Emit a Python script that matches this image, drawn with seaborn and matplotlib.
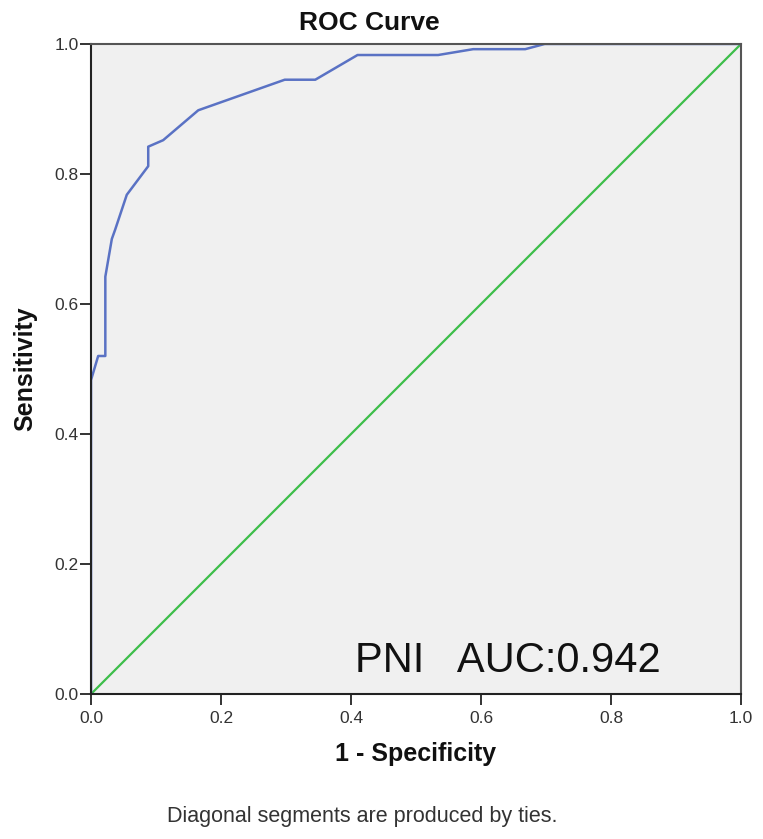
import numpy as np
import pandas as pd
import seaborn as sns
import matplotlib.pyplot as plt

# --- data ---
fpr = [0.0, 0.0, 0.011, 0.022, 0.022, 0.032, 0.037, 0.055, 0.088, 0.088, 0.111,
       0.165, 0.298, 0.345, 0.41, 0.534, 0.588, 0.668, 0.698, 1.0]
tpr = [0.0, 0.483, 0.52, 0.52, 0.642, 0.70, 0.714, 0.768, 0.812, 0.842, 0.852,
       0.898, 0.945, 0.945, 0.983, 0.983, 0.992, 0.992, 1.0, 1.0]
ref_line = [0.0, 1.0]
ticks = [0.0, 0.2, 0.4, 0.6, 0.8, 1.0]
auc_label = "PNI   AUC:0.942"

sns.set_style("ticks")
plt.rcParams['font.family'] = ['Liberation Sans', 'DejaVu Sans']

fig = plt.figure(figsize=(7.63, 8.39), dpi=100)
ax = fig.add_axes([0.1193, 0.1728, 0.8519, 0.7748])
ax.set_facecolor('#f0f0f0')

roc = pd.DataFrame({'fpr': fpr, 'tpr': tpr})
diag = pd.DataFrame({'x': ref_line, 'y': ref_line})
sns.lineplot(data=diag, x='x', y='y', color='#3dbe4a', lw=1.6, ax=ax)
sns.lineplot(data=roc, x='fpr', y='tpr', sort=False, estimator=None,
             color='#5a72c4', lw=1.8, ax=ax)

ax.set_xlim(0, 1)
ax.set_ylim(0, 1)
ax.set_xticks(ticks)
ax.set_yticks(ticks)
ax.set_xticklabels([f"{t:.1f}" for t in ticks])
ax.set_yticklabels([f"{t:.1f}" for t in ticks])
ax.tick_params(direction='out', length=8, width=1.4, labelsize=12.5,
               colors='#333333')
ax.tick_params(axis='y', pad=1)
ax.tick_params(axis='x', pad=4)

for side in ['left', 'bottom']:
    ax.spines[side].set_color('#222222')
    ax.spines[side].set_linewidth(1.5)
for side in ['top', 'right']:
    ax.spines[side].set_visible(True)
    ax.spines[side].set_color('#555555')
    ax.spines[side].set_linewidth(1.5)

# title sits a bit left of the plot centre in the reference
fig.text(0.4836, 0.9642, 'ROC Curve', fontsize=19, fontweight='bold',
         ha='center', va='baseline', color='#111111')
ax.set_xlabel('1 - Specificity', fontsize=18, fontweight='bold', color='#111111')
ax.xaxis.set_label_coords(0.5, -0.074)
ax.set_ylabel('Sensitivity', fontsize=18, fontweight='bold', color='#111111',
              labelpad=12)

ax.text(0.877, 0.034, auc_label, fontsize=30, ha='right', va='baseline',
        color='#111111', transform=ax.transAxes)

fig.text(0.475, 0.020, 'Diagonal segments are produced by ties.', ha='center',
         va='baseline', fontsize=15.5, color='#333333')

fig.savefig('out.png', dpi=100)
